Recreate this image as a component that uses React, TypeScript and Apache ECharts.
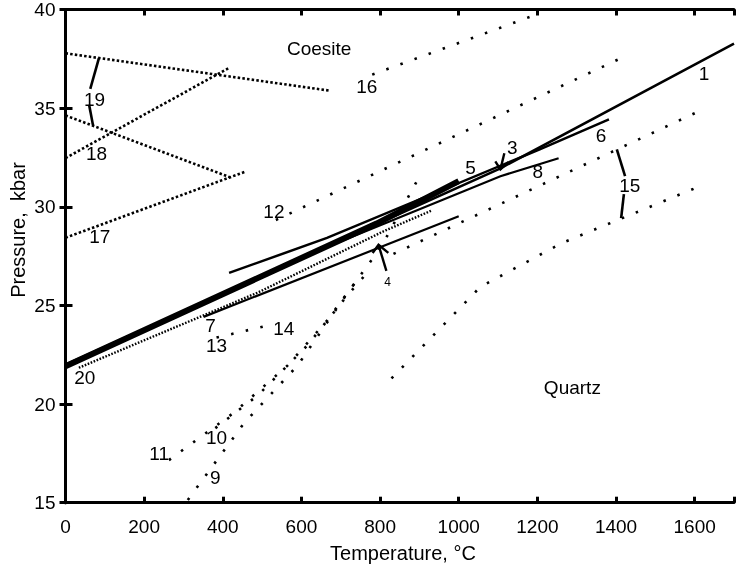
import React, { useEffect, useRef } from "react";
import * as echarts from "echarts";

// ---- data (Temperature °C, Pressure kbar) ----
const xTickValues = [0, 200, 400, 600, 800, 1000, 1200, 1400, 1600];
const yTickValues = [15, 20, 25, 30, 35, 40];

// solid curves
const line1 = [[0, 22.0], [1106, 31.95], [1700, 38.27]];
const line2 = [[0, 21.92], [791, 29.15], [1000, 31.3]];
const line6 = [[416, 26.65], [665, 28.42], [1206, 32.91], [1382, 34.43]];
const line7 = [[351, 24.42], [1000, 29.52]];
const line8 = [[591, 27.36], [1106, 31.55], [1254, 32.46]];
// fine dotted curve 20
const line20 = [[34, 21.84], [490, 25.66], [809, 28.76], [930, 29.8]];
// dense dotted curves (upper left)
const line16a = [[0, 37.78], [674, 35.88]];
const line18 = [[0, 32.47], [414, 37.02]];
const line19a = [[0, 34.63], [418, 31.5]];
const line17 = [[0, 28.43], [456, 31.77]];
// sparse dotted curves
const line16 = [[780, 36.7], [1194, 39.72]];
const line12 = [[535, 29.33], [1410, 37.51]];
const line15a = [[834, 27.61], [1604, 34.78]];
const line15b = [[829, 21.3], [1055, 25.94], [1262, 28.16], [1601, 30.94]];
const line13 = [[384, 23.37], [512, 23.97]];
const line9 = [[311, 15.14], [454, 19.03], [590, 21.95], [703, 25.23], [804, 28.01], [899, 31.5]];
const line10 = [[381, 18.78], [489, 20.44], [615, 22.97], [716, 25.49], [776, 26.86]];
const line11 = [[263, 17.16], [426, 19.53], [565, 21.96], [665, 24.23], [736, 26.15]];
// brackets
const bracket15 = [[[1402, 32.91], [1423, 31.55]], [[1420, 30.64], [1413, 29.43]]];
const bracket19 = [[[85, 37.53], [63, 35.98]], [[60, 35.17], [70, 34.13]]];
// arrows
const arrow3 = [[[1116, 32.71], [1106, 31.9]], [[1093, 32.3], [1106, 31.9], [1126, 32.26]]];
const arrow4 = [[[816, 26.75], [796, 28.07]], [[781, 27.66], [796, 28.07], [821, 27.66]]];

// labels [T, P, text]
const numLabels = [
  [1624, 36.75, "1"], [1136, 33.01, "3"], [1030, 32.0, "5"], [1362, 33.62, "6"],
  [369, 23.97, "7"], [1201, 31.8, "8"], [381, 16.26, "9"], [384, 18.33, "10"],
  [238, 17.47, "11"], [530, 29.78, "12"], [384, 22.97, "13"], [555, 23.83, "14"],
  [1435, 31.09, "15"], [766, 36.1, "16"], [87, 28.47, "17"], [79, 32.71, "18"],
  [74, 35.44, "19"], [49, 21.35, "20"],
];
const smallLabels = [[819, 26.2, "4"]];
const phaseLabels = [[645, 38.02, "Coesite"], [1289, 20.85, "Quartz"]];

const FONT = "'Liberation Sans', Arial, sans-serif";

function lineSeries(data: number[][], width: number, type: any, z = 3) {
  return {
    type: "line",
    data,
    symbol: "none",
    showSymbol: false,
    silent: true,
    z,
    lineStyle: { color: "#000", width, type, cap: "butt", join: "miter" },
  };
}

function labelSeries(data: any[], size: number) {
  return {
    type: "scatter",
    data,
    symbolSize: 0,
    silent: true,
    z: 5,
    itemStyle: { color: "#000" },
    label: {
      show: true,
      position: "inside",
      formatter: (p: any) => p.data[2],
      color: "#000",
      opacity: 1,
      textBorderWidth: 0,
      fontSize: size,
      fontFamily: FONT,
    },
  };
}

export default function App() {
  const ref = useRef<HTMLDivElement>(null);
  useEffect(() => {
    if (!ref.current) return;
    const chart = echarts.init(ref.current, undefined, { renderer: "svg" });
    const sparse = [2.5, 12.5];
    const dense = [2.5, 2.2];
    const series: any[] = [
      lineSeries(line2, 6, "solid", 3),
      lineSeries(line1, 2.5, "solid", 4),
      lineSeries(line6, 2.5, "solid", 4),
      lineSeries(line7, 2.2, "solid", 4),
      lineSeries(line8, 2.2, "solid", 4),
      lineSeries(line20, 2.4, [1.6, 1.6], 4),
      lineSeries(line16a, 2.6, dense),
      lineSeries(line18, 2.6, dense),
      lineSeries(line19a, 2.6, dense),
      lineSeries(line17, 2.6, dense),
      lineSeries(line16, 2.6, sparse),
      lineSeries(line12, 2.6, sparse),
      lineSeries(line15a, 2.6, sparse),
      lineSeries(line15b, 2.6, sparse),
      lineSeries(line13, 2.6, sparse),
      lineSeries(line9, 2.6, sparse),
      lineSeries(line10, 2.6, sparse),
      lineSeries(line11, 2.6, sparse),
      ...bracket15.map((d) => lineSeries(d, 2.6, "solid")),
      ...bracket19.map((d) => lineSeries(d, 2.6, "solid")),
      ...arrow3.map((d) => lineSeries(d, 2.4, "solid")),
      ...arrow4.map((d) => lineSeries(d, 2.4, "solid")),
      labelSeries(numLabels, 19),
      labelSeries(smallLabels, 12),
      labelSeries(phaseLabels, 19),
    ];
    const axisLine = { show: true, lineStyle: { color: "#000", width: 3 } };
    chart.setOption({
      animation: false,
      grid: { left: 65.5, right: -4, top: 7.7, bottom: 67.3, containLabel: false },
      xAxis: [
        {
          type: "value", position: "bottom", min: 0, max: 1700, interval: 200,
          axisLine, splitLine: { show: false },
          axisTick: { show: true, inside: true, length: 6, lineStyle: { color: "#000", width: 3 } },
          axisLabel: {
            color: "#000", fontSize: 19, fontFamily: FONT, margin: 14,
            formatter: (v: number) => (xTickValues.includes(v) ? String(v) : ""),
          },
        },
        {
          type: "value", position: "top", min: 0, max: 1700, interval: 200,
          axisLine, splitLine: { show: false }, axisLabel: { show: false },
          axisTick: { show: true, inside: true, length: 6, lineStyle: { color: "#000", width: 3 } },
        },
      ],
      yAxis: [
        {
          type: "value", position: "left", min: 15, max: 40, interval: 5,
          axisLine, splitLine: { show: false },
          axisTick: { show: true, inside: true, length: 7, lineStyle: { color: "#000", width: 3 } },
          axisLabel: {
            color: "#000", fontSize: 19, fontFamily: FONT, margin: 10,
            formatter: (v: number) => (yTickValues.includes(v) ? String(v) : ""),
          },
        },
        {
          type: "value", position: "right", min: 15, max: 40, interval: 5,
          axisLine, splitLine: { show: false }, axisLabel: { show: false },
          axisTick: { show: true, inside: true, length: 6, lineStyle: { color: "#000", width: 3 } },
        },
      ],
      graphic: [
        {
          type: "text", x: 403, y: 553,
          style: { text: "Temperature, °C", fontSize: 20, fontFamily: FONT, fill: "#000", align: "center", verticalAlign: "middle" },
        },
        {
          type: "text", x: 18, y: 230, rotation: Math.PI / 2,
          style: { text: "Pressure,  kbar", fontSize: 20, fontFamily: FONT, fill: "#000", align: "center", verticalAlign: "middle" },
        },
      ],
      series,
    });
    return () => chart.dispose();
  }, []);
  return <div ref={ref} style={{ position: "fixed", left: 0, top: 0, width: 737, height: 570 }} />;
}
